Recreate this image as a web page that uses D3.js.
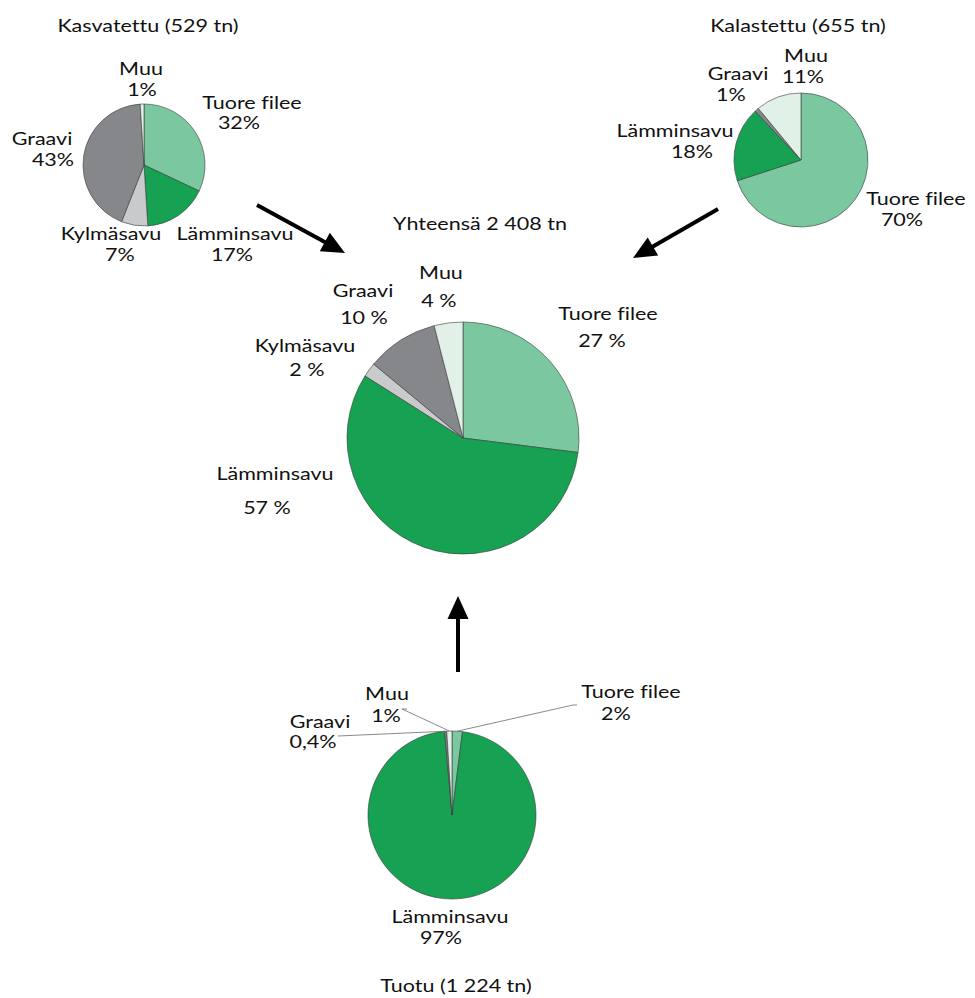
<!DOCTYPE html>
<html>
<head>
<meta charset="utf-8">
<script src="https://cdn.jsdelivr.net/npm/d3@7"></script>
<style>
  body { margin: 0; background: #fff; }
  text { font-family: Lato, "Open Sans", sans-serif; font-size: 17.5px; fill: #111; font-variant-ligatures: none; }
</style>
</head>
<body>
<script>
// slice order, clockwise from 12 o'clock
var categories = ["Tuore filee", "Lämminsavu", "Kylmäsavu", "Graavi", "Muu"];

var kasvatettu = [32, 17, 7, 43, 1];
var kalastettu = [70, 18, 0, 1, 11];
var yhteensa   = [27, 57, 2, 10, 4];
var tuotu      = [2, 97, 0, 0.4, 1];

var kasvatettuLabels = ["32%", "17%", "7%", "43%", "1%"];
var kalastettuLabels = ["70%", "18%", "", "1%", "11%"];
var yhteensaLabels   = ["27 %", "57 %", "2 %", "10 %", "4 %"];
var tuotuLabels      = ["2%", "97%", "", "0,4%", "1%"];

var titles = ["Kasvatettu (529 tn)", "Kalastettu (655 tn)", "Yhteensä 2 408 tn", "Tuotu (1 224 tn)"];

var colors = d3.scaleOrdinal()
  .domain(categories)
  .range(["#7bc8a0", "#17a152", "#c9cacc", "#86878b", "#e1f1e7"]);

var svg = d3.select("body").append("svg").attr("width", 975).attr("height", 998);

var pie = d3.pie().sort(null).value(function(d){ return d.v; });

// the original lettering is set wide, so stretch it a bit
var SX = 1.23;
function label(lines) {
  var t = svg.append("text")
    .attr("transform", "scale(" + SX + ",1)")
    .attr("text-anchor", "middle");
  lines.forEach(function(l) {
    t.append("tspan").attr("x", l[0] / SX).attr("y", l[1]).text(l[2]);
  });
}

// layout: centre, radius, title spot, label spots [name x, name y, pct x, pct y] per category
var charts = [
  { values: kasvatettu, pct: kasvatettuLabels, cx: 144, cy: 165, r: 61,
    title: [148, 32],
    spots: [[252, 109, 239, 129], [235, 240, 232, 261], [111, 240, 120, 261], [42, 145, 53, 166], [141, 75, 142, 96]] },
  { values: kalastettu, pct: kalastettuLabels, cx: 801, cy: 160, r: 67,
    title: [798, 32],
    spots: [[916, 205, 902, 226], [675, 137, 692, 158], null, [738, 80, 731, 101], [806, 62, 803, 83]] },
  { values: yhteensa, pct: yhteensaLabels, cx: 463, cy: 438, r: 116,
    title: [480, 230],
    spots: [[608, 320, 602, 347], [275, 480, 267, 514], [305, 352, 307, 376], [363, 297, 364, 324], [441, 279, 439, 307]] },
  { values: tuotu, pct: tuotuLabels, cx: 452, cy: 815, r: 84,
    title: [456, 992],
    spots: [[631, 698, 616, 720], [450, 923, 441, 944], null, [320, 728, 313, 748], [387, 700, 386, 722]],
    leaders: [[573, 705, 577, 705], null, null, [338, 736, 338, 736], [402, 709, 407, 709]] }
];

charts.forEach(function(c, ci) {
  var rows = categories.map(function(k, i){ return { k: k, v: c.values[i], i: i }; });
  var arcs = pie(rows);
  var arc = d3.arc().innerRadius(0).outerRadius(c.r);
  var g = svg.append("g").attr("transform", "translate(" + c.cx + "," + c.cy + ")");

  g.selectAll("path.slice").data(arcs.filter(function(d){ return d.data.v > 0; }))
    .enter().append("path")
    .attr("class", "slice")
    .attr("d", arc)
    .attr("fill", function(d){ return colors(d.data.k); })
    .attr("stroke", "#3a3a3a")
    .attr("stroke-width", 0.6)
    .attr("stroke-linejoin", "round");

  // leader lines for the thin slices
  if (c.leaders) {
    arcs.forEach(function(d, i) {
      var L = c.leaders[i];
      if (!L) return;
      var mid = (d.startAngle + d.endAngle) / 2;
      var px = c.cx + Math.sin(mid) * c.r, py = c.cy - Math.cos(mid) * c.r;
      svg.append("polyline")
        .attr("points", [[L[2], L[3]], [L[0], L[1]], [px, py]].map(function(p){ return p.join(","); }).join(" "))
        .attr("fill", "none")
        .attr("stroke", "#6b6b6b")
        .attr("stroke-width", 0.8);
    });
  }

  c.spots.forEach(function(s, i) {
    if (!s) return;
    label([[s[0], s[1], categories[i]], [s[2], s[3], c.pct[i]]]);
  });

  label([[c.title[0], c.title[1], titles[ci]]]);
});

// flow arrows
var arrows = [[257, 205, 345, 253], [718, 209, 633, 258], [458, 672, 458, 596]];
arrows.forEach(function(a) {
  var dx = a[2] - a[0], dy = a[3] - a[1];
  var len = Math.sqrt(dx * dx + dy * dy);
  var ux = dx / len, uy = dy / len;
  var hl = 23, hw = 10.5;
  var bx = a[2] - ux * hl, by = a[3] - uy * hl;
  svg.append("line")
    .attr("x1", a[0]).attr("y1", a[1]).attr("x2", bx + ux * 2).attr("y2", by + uy * 2)
    .attr("stroke", "#000").attr("stroke-width", 4);
  svg.append("path")
    .attr("d", "M" + a[2] + "," + a[3] +
               "L" + (bx - uy * hw) + "," + (by + ux * hw) +
               "L" + (bx + uy * hw) + "," + (by - ux * hw) + "Z")
    .attr("fill", "#000");
});
</script>
</body>
</html>
